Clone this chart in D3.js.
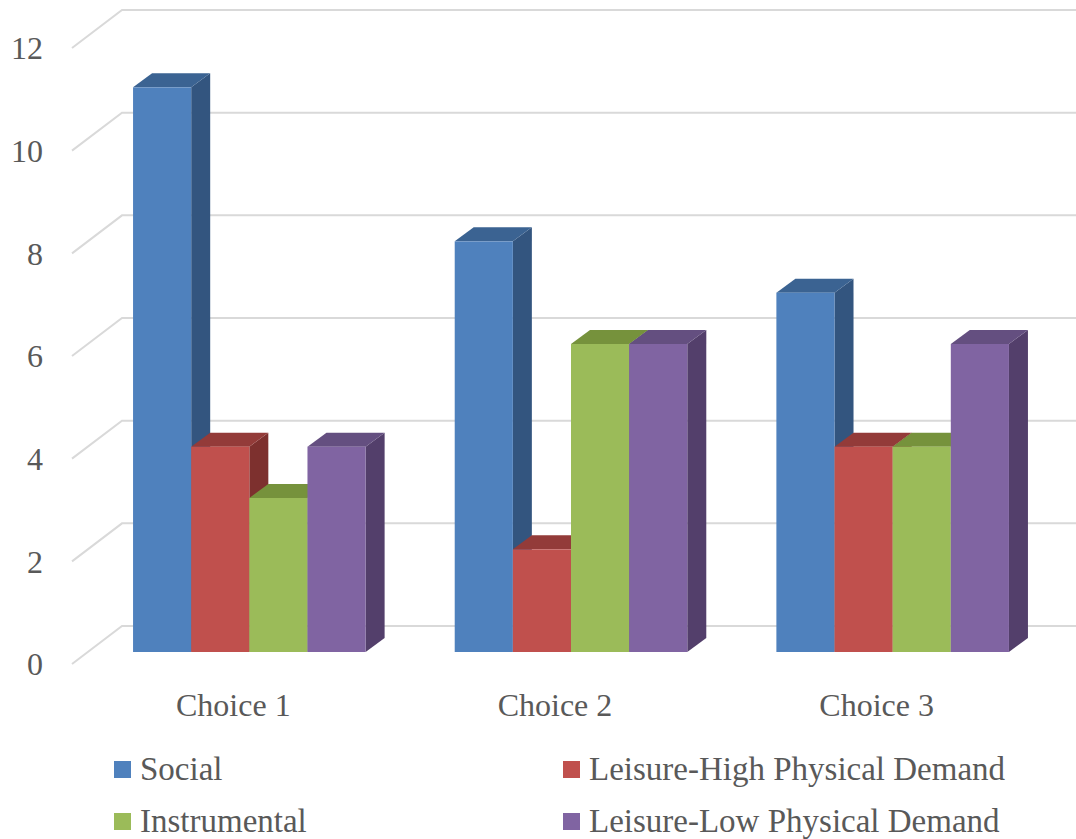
<!DOCTYPE html>
<meta charset="utf-8">
<script src="https://d3js.org/d3.v7.min.js"></script>
<style>
  body { margin: 0; background: #fff; }
  text { font-family: "Liberation Serif", "DejaVu Serif", serif; fill: #595959; }
</style>
<body>
<svg width="1076" height="839"></svg>
<script>
var categories = ['Choice 1', 'Choice 2', 'Choice 3'];
var seriesNames = ['Social', 'Leisure-High Physical Demand', 'Instrumental', 'Leisure-Low Physical Demand'];
var social = [11, 8, 7];
var leisureHigh = [4, 2, 4];
var instrumental = [3, 6, 4];
var leisureLow = [4, 6, 6];
var yTicks = [0, 2, 4, 6, 8, 10, 12];

var values = [social, leisureHigh, instrumental, leisureLow];
// front / top / side shades for each series
var colors = [
  ['#4f81bd', '#3b6392', '#33557f'],
  ['#c0504d', '#933b39', '#7d302e'],
  ['#9bbb59', '#76923c', '#627c36'],
  ['#8064a2', '#644f80', '#533f6b']
];

var svg = d3.select('svg');

// y on the front plane of the box
var y = d3.scaleLinear().domain([0, 12]).range([664, 48]);
var wall = [50, -38];      // front plane -> back wall
var barOff = [16, -12];    // front plane -> bar front face
var depth = [19, -14];     // bar depth

var x0 = d3.scaleBand().domain(categories).range([88.5, 1053.5])
    .paddingInner(0.277).paddingOuter(0.1385);
var x1 = d3.scaleBand().domain(d3.range(4)).range([0, x0.bandwidth()]);

// gridlines
var grid = svg.append('g');
yTicks.forEach(function(t){
  var yf = y(t);
  grid.append('path')
    .attr('d', 'M72,' + yf + 'L' + (72 + wall[0]) + ',' + (yf + wall[1]) + 'L1076,' + (yf + wall[1]))
    .attr('fill', 'none').attr('stroke', '#d9d9d9').attr('stroke-width', 2);
  svg.append('text').attr('x', 43).attr('y', yf).attr('dy', '0.35em')
    .attr('text-anchor', 'end').style('font-size', '32px').text(t);
});

// bars, left to right
var bars = svg.append('g');
categories.forEach(function(c, ci){
  for (var s = 0; s < 4; s++) {
    var v = values[s][ci];
    var xl = x0(c) + x1(s), xr = xl + x1.bandwidth();
    var yb = y(0) + barOff[1], yt = y(v) + barOff[1];
    var dx = depth[0], dy = depth[1];
    bars.append('path')
      .attr('d', 'M' + xr + ',' + yt + 'L' + (xr + dx) + ',' + (yt + dy) + 'L' + (xr + dx) + ',' + (yb + dy) + 'L' + xr + ',' + yb + 'Z')
      .attr('fill', colors[s][2]);
    bars.append('path')
      .attr('d', 'M' + xl + ',' + yt + 'L' + xr + ',' + yt + 'L' + (xr + dx) + ',' + (yt + dy) + 'L' + (xl + dx) + ',' + (yt + dy) + 'Z')
      .attr('fill', colors[s][1]);
    bars.append('rect')
      .attr('x', xl).attr('y', yt).attr('width', xr - xl).attr('height', yb - yt)
      .attr('fill', colors[s][0]);
  }
});

// category labels
categories.forEach(function(c){
  svg.append('text')
    .attr('x', x0(c) + x0.bandwidth() / 2 - 16).attr('y', 716)
    .attr('text-anchor', 'middle').style('font-size', '32px').text(c);
});

// legend
var legendPos = [[114, 780], [563, 780], [114, 832], [563, 832]];
seriesNames.forEach(function(n, i){
  var p = legendPos[i];
  svg.append('rect').attr('x', p[0]).attr('y', p[1] - 19).attr('width', 17).attr('height', 17)
    .attr('fill', colors[i][0]);
  svg.append('text').attr('x', p[0] + 26).attr('y', p[1]).style('font-size', '33px').text(n);
});
</script>
